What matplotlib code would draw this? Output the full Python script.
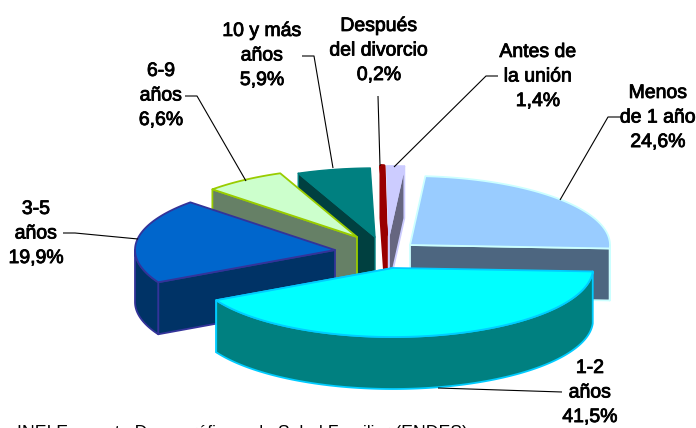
import numpy as np
import matplotlib
matplotlib.use('Agg')
import matplotlib.pyplot as plt
import matplotlib.patheffects as path_effects
from matplotlib.patches import Polygon

categories = ['Menos\nde 1 año', '1-2\naños', '3-5\naños', '6-9\naños',
              '10 y más\naños', 'Después\ndel divorcio', 'Antes de\nla unión']
shares = [24.6, 41.5, 19.9, 6.6, 5.9, 0.2, 1.4]
source_text = 'INEI Encuesta Demográfica y de Salud Familiar (ENDES)'

# pie geometry, in pixels of the 696x428 image
START_ANGLE = 4.4
RX, RY, DEPTH = 200, 69, 52
apex = [(410, 245), (393, 268), (335, 250), (357, 237), (375, 237), (386, 235), (389, 235)]
top_colors = ['#99CCFF', '#00FFFF', '#0066CC', '#CCFFCC', '#008080', '#990000', '#CCCCFF']
edge_colors = ['#CCFFFF', '#00CCFF', '#333399', '#99CC00', '#008080', '#990000', '#CCCCFF']
side_colors = ['#4D6680', '#008080', '#003366', '#668066', '#004040', '#800000', '#666680']
edge_widths = [1.3, 1.3, 1.3, 1.3, 1.0, 2.6, 1.3]
draw_order = [4, 5, 6, 3, 0, 2, 1]

label_pos = [(658, 118), (590, 393), (36, 234), (161, 96), (262, 56), (379, 51), (538, 77)]
leaders = [
    [(560, 200), (608, 117), (623, 117)],
    [(438, 388), (562, 392)],
    [(138, 239), (75, 233), (63, 233)],
    [(246, 181), (197, 96), (185, 96)],
    [(333, 168), (314, 56), (302, 56)],
    [(380, 166), (378, 96)],
    [(394, 167), (486, 76), (498, 76)],
]


def rim_points(center, a0, a1):
    n = max(int(abs(a1 - a0)), 2) + 1
    t = np.radians(np.linspace(a0, a1, n))
    return np.column_stack([center[0] + RX * np.sin(t), center[1] - RY * np.cos(t)])


fig = plt.figure(figsize=(6.96, 4.28), dpi=100)
ax = fig.add_axes([0, 0, 1, 1])
ax.set_xlim(0, 696)
ax.set_ylim(428, 0)
ax.axis('off')

angles = START_ANGLE + np.concatenate([[0], np.cumsum(shares)]) * 360 / sum(shares)

for i in draw_order:
    a0, a1 = angles[i], angles[i + 1]
    c = np.array(apex[i], dtype=float)
    rim = rim_points(c, a0, a1)
    drop = np.array([0, DEPTH])
    mid = (a0 + a1) / 2 % 360
    style = dict(facecolor=side_colors[i], edgecolor=edge_colors[i],
                 linewidth=edge_widths[i], joinstyle='round')

    # cut face that looks at the viewer
    corner = rim[-1] if mid < 180 else rim[0]
    ax.add_patch(Polygon([c, corner, corner + drop, c + drop], **style))

    # outer wall, only the part on the front half
    lo, hi = max(a0, 90), min(a1, 270)
    if hi > lo:
        front = rim_points(c, lo, hi)
        ax.add_patch(Polygon(np.vstack([front, front[::-1] + drop]), **style))

    ax.add_patch(Polygon(np.vstack([c, rim]), facecolor=top_colors[i],
                         edgecolor=edge_colors[i], linewidth=edge_widths[i], joinstyle='round'))

for line in leaders:
    xs, ys = zip(*line)
    ax.plot(xs, ys, color='black', linewidth=0.8, solid_capstyle='butt')

bolder = [path_effects.withStroke(linewidth=0.6, foreground='black')]
for name, share, (x, y) in zip(categories, shares, label_pos):
    label = name + '\n' + f'{share:.1f}%'.replace('.', ',')
    ax.text(x, y, label, ha='center', va='center', fontsize=14, family='Liberation Sans',
            linespacing=1.58, color='black', path_effects=bolder)

ax.text(17, 434, source_text, ha='left', va='center', fontsize=12.7,
        family='Liberation Sans', color='black', clip_on=False)

fig.savefig('out.png', dpi=100)
